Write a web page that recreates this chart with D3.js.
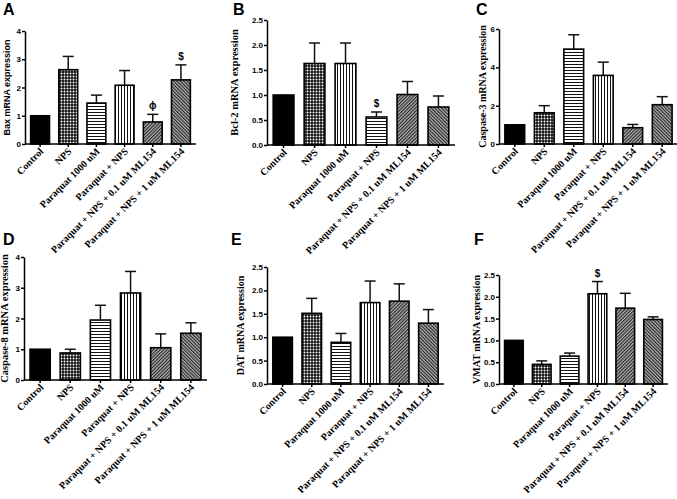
<!DOCTYPE html>
<html>
<head>
<meta charset="utf-8">
<script src="https://cdn.jsdelivr.net/npm/d3@7"></script>
<style>
  body { margin: 0; background: #fff; }
  svg { display: block; }
</style>
</head>
<body>
<div id="lacaja"></div>
<script>
// grupos del experimento
const groups = ["Control", "NPS", "Paraquat 1000 uM", "Paraquat + NPS",
  "Paraquat  + NPS + 0.1 uM ML154", "Paraquat  + NPS + 1 uM ML154"];

// valores (media y SEM)
const baxMean = [1, 2.63, 1.45, 2.08, 0.78, 2.27];
const baxSem = [0, 0.47, 0.28, 0.52, 0.27, 0.53];
const baxMarks = ["", "", "", "", "ϕ", "$"];

const bcl2Mean = [1, 1.63, 1.63, 0.56, 1.01, 0.76];
const bcl2Sem = [0, 0.41, 0.41, 0.10, 0.26, 0.22];
const bcl2Marks = ["", "", "", "$", "", ""];

const casp3Mean = [1, 1.63, 4.95, 3.58, 0.85, 2.05];
const casp3Sem = [0, 0.37, 0.75, 0.69, 0.17, 0.42];
const casp3Marks = ["", "", "", "", "", ""];

const casp8Mean = [1, 0.88, 1.95, 2.83, 1.05, 1.52];
const casp8Sem = [0, 0.12, 0.48, 0.70, 0.45, 0.34];
const casp8Marks = ["", "", "", "", "", ""];

const datMean = [1, 1.51, 0.89, 1.74, 1.77, 1.30];
const datSem = [0, 0.32, 0.19, 0.46, 0.37, 0.29];
const datMarks = ["", "", "", "", "", ""];

const vmatMean = [1, 0.45, 0.64, 2.07, 1.74, 1.48];
const vmatSem = [0, 0.08, 0.07, 0.28, 0.34, 0.06];
const vmatMarks = ["", "", "", "$", "", ""];

// marcas del eje y
const ticks4 = [0, 1, 2, 3, 4];
const ticks25 = [0, 0.5, 1.0, 1.5, 2.0, 2.5];
const ticks6 = [0, 2, 4, 6];

const SANS = "'Liberation Sans', Arial, sans-serif";
const SERIF = "'Liberation Serif', 'Times New Roman', serif";

// orden normal de los patrones y el del panel B (intercambiados)
const pats = ["solid", "checker", "hlines", "vlines", "diagA", "diagB"];
const patsB = ["solid", "checker", "vlines", "hlines", "diagA", "diagB"];

const panels = [
  { letter: "A", lx: 3, ly: 15, ylabel: "Bax mRNA expression", yfont: SANS, ysize: 9, ylx: 7,
    mean: baxMean, sem: baxSem, marks: baxMarks, ticks: ticks4, fmt: d3.format("d"),
    x0: 25, x1: 196, y0: 144, y1: 31, pat: pats },
  { letter: "B", lx: 233, ly: 15, ylabel: "Bcl-2 mRNA expression", yfont: SERIF, ysize: 10.5, ylx: 235,
    mean: bcl2Mean, sem: bcl2Sem, marks: bcl2Marks, ticks: ticks25, fmt: d3.format(".1f"),
    x0: 267, x1: 455, y0: 145, y1: 20, pat: patsB },
  { letter: "C", lx: 476, ly: 15, ylabel: "Caspase-3 mRNA expression", yfont: SERIF, ysize: 10, ylx: 483,
    mean: casp3Mean, sem: casp3Sem, marks: casp3Marks, ticks: ticks6, fmt: d3.format("d"),
    x0: 499, x1: 678, y0: 144, y1: 29, pat: pats },
  { letter: "D", lx: 3, ly: 245, ylabel: "Caspase-8 mRNA expression", yfont: SERIF, ysize: 10.5, ylx: 5,
    mean: casp8Mean, sem: casp8Sem, marks: casp8Marks, ticks: ticks4, fmt: d3.format("d"),
    x0: 24, x1: 207, y0: 380, y1: 257, pat: pats },
  { letter: "E", lx: 231, ly: 245, ylabel: "DAT mRNA expression", yfont: SERIF, ysize: 10, ylx: 241,
    mean: datMean, sem: datSem, marks: datMarks, ticks: ticks25, fmt: d3.format(".1f"),
    x0: 267, x1: 444, y0: 384, y1: 267, pat: pats },
  { letter: "F", lx: 474, ly: 245, ylabel: "VMAT mRNA expression", yfont: SERIF, ysize: 10, ylx: 477,
    mean: vmatMean, sem: vmatSem, marks: vmatMarks, ticks: ticks25, fmt: d3.format(".1f"),
    x0: 499, x1: 668, y0: 384, y1: 275, pat: pats }
];

const svg = d3.select("#lacaja").append("svg")
  .attr("width", 677).attr("height", 499);

svg.append("rect").attr("width", 677).attr("height", 499).attr("fill", "#fff");

// patrones de relleno
const defs = svg.append("defs");

const checker = defs.append("pattern").attr("id", "checker")
  .attr("patternUnits", "userSpaceOnUse").attr("width", 3).attr("height", 3);
checker.append("rect").attr("width", 3).attr("height", 3).attr("fill", "#111");
checker.append("circle").attr("cx", 1.5).attr("cy", 1.5).attr("r", 0.95).attr("fill", "#fff");

const hl = defs.append("pattern").attr("id", "hlines")
  .attr("patternUnits", "userSpaceOnUse").attr("width", 3).attr("height", 3);
hl.append("rect").attr("width", 3).attr("height", 3).attr("fill", "#fff");
hl.append("rect").attr("y", 1).attr("width", 3).attr("height", 1).attr("fill", "#111");

const vl = defs.append("pattern").attr("id", "vlines")
  .attr("patternUnits", "userSpaceOnUse").attr("width", 3).attr("height", 3);
vl.append("rect").attr("width", 3).attr("height", 3).attr("fill", "#fff");
vl.append("rect").attr("x", 1).attr("width", 1).attr("height", 3).attr("fill", "#111");

[["diagA", 45], ["diagB", -45]].forEach(function(p) {
  const g = defs.append("pattern").attr("id", p[0])
    .attr("patternUnits", "userSpaceOnUse").attr("width", 2.4).attr("height", 2.4)
    .attr("patternTransform", `rotate(${p[1]})`);
  g.append("rect").attr("width", 2.4).attr("height", 2.4).attr("fill", "#b0b0b0");
  g.append("rect").attr("width", 1.1).attr("height", 2.4).attr("fill", "#222");
});

panels.forEach(function(p) {
  const x = d3.scaleBand().domain(groups).range([p.x0, p.x1])
    .paddingInner(0.33).paddingOuter(0.2);
  const y = d3.scaleLinear().domain([0, p.ticks[p.ticks.length - 1]]).range([p.y0, p.y1]);

  const rows = groups.map((g, i) => ({ g: g, m: p.mean[i], s: p.sem[i], mark: p.marks[i], pat: p.pat[i] }));

  const g = svg.append("g");

  // letra del panel
  g.append("text").attr("x", p.lx).attr("y", p.ly)
    .attr("font-family", SANS).attr("font-weight", "bold").attr("font-size", 16)
    .text(p.letter);

  // barras de error (solo hacia arriba)
  const err = g.selectAll(".err").data(rows.filter(d => d.s > 0)).enter().append("g");
  err.append("line")
    .attr("x1", d => x(d.g) + x.bandwidth() / 2).attr("x2", d => x(d.g) + x.bandwidth() / 2)
    .attr("y1", d => y(d.m)).attr("y2", d => y(d.m + d.s))
    .attr("stroke", "#111").attr("stroke-width", 1.5);
  err.append("line")
    .attr("x1", d => x(d.g) + x.bandwidth() / 2 - 5.5).attr("x2", d => x(d.g) + x.bandwidth() / 2 + 5.5)
    .attr("y1", d => y(d.m + d.s)).attr("y2", d => y(d.m + d.s))
    .attr("stroke", "#111").attr("stroke-width", 1.5);

  // barras
  g.selectAll(".bar").data(rows).enter().append("rect")
    .attr("x", d => x(d.g)).attr("width", x.bandwidth())
    .attr("y", d => y(d.m)).attr("height", d => y(0) - y(d.m))
    .attr("fill", d => d.pat === "solid" ? "#000" : `url(#${d.pat})`)
    .attr("stroke", "#000").attr("stroke-width", 1.6);

  // simbolos de significancia
  g.selectAll(".mark").data(rows.filter(d => d.mark)).enter().append("text")
    .attr("x", d => x(d.g) + x.bandwidth() / 2)
    .attr("y", d => y(d.m + d.s) - 5)
    .attr("text-anchor", "middle")
    .attr("font-family", SANS).attr("font-weight", "bold").attr("font-size", 10)
    .text(d => d.mark);

  // eje y
  const ay = g.append("g").attr("transform", `translate(${p.x0},0)`)
    .call(d3.axisLeft(y).tickValues(p.ticks).tickFormat(p.fmt).tickSize(3).tickSizeOuter(0).tickPadding(1));
  ay.select(".domain").attr("stroke-width", 1.5);
  ay.selectAll(".tick line").attr("stroke-width", 1.5);
  ay.selectAll("text").attr("font-family", SANS).attr("font-weight", "bold").attr("font-size", 8);

  // eje x
  const ax = g.append("g").attr("transform", `translate(0,${p.y0})`)
    .call(d3.axisBottom(x).tickSize(3).tickSizeOuter(0));
  ax.select(".domain").attr("stroke-width", 1.5).attr("d", `M${p.x0},0H${p.x1}`);
  ax.selectAll(".tick line").attr("stroke-width", 1.5);
  ax.selectAll("text")
    .attr("font-family", SERIF).attr("font-weight", "bold").attr("font-size", 10)
    .attr("text-anchor", "end").attr("dy", null).attr("y", 0)
    .attr("transform", "translate(4,8) rotate(-45)");

  // titulo del eje y
  g.append("text")
    .attr("transform", `translate(${p.ylx + 3},${(p.y0 + p.y1) / 2}) rotate(-90)`)
    .attr("text-anchor", "middle")
    .attr("font-family", p.yfont).attr("font-weight", "bold").attr("font-size", p.ysize)
    .text(p.ylabel);
});
</script>
</body>
</html>
